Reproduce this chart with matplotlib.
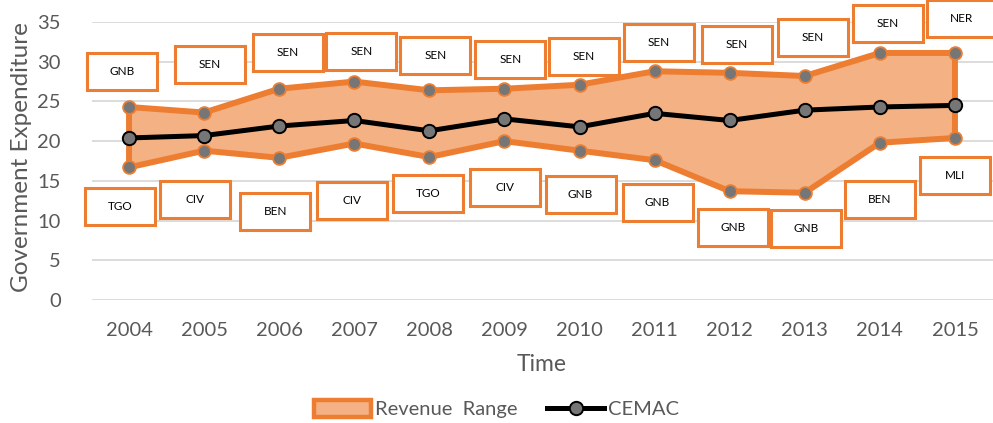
import matplotlib
matplotlib.use("Agg")
import matplotlib.pyplot as plt
import numpy as np
from matplotlib.patches import Rectangle, Patch
from matplotlib.lines import Line2D
from matplotlib.transforms import IdentityTransform

# ---------------- data ----------------
years = ["2004", "2005", "2006", "2007", "2008", "2009", "2010", "2011", "2012", "2013", "2014", "2015"]
rev_max = [24.3, 23.6, 26.6, 27.5, 26.4, 26.6, 27.1, 28.8, 28.6, 28.2, 31.1, 31.1]
rev_min = [16.7, 18.8, 17.9, 19.7, 18.0, 20.0, 18.8, 17.6, 13.7, 13.5, 19.8, 20.4]
cemac = [20.4, 20.7, 21.9, 22.6, 21.3, 22.8, 21.8, 23.5, 22.6, 23.9, 24.3, 24.5]
max_country = ["GNB", "SEN", "SEN", "SEN", "SEN", "SEN", "SEN", "SEN", "SEN", "SEN", "SEN", "NER"]
min_country = ["TGO", "CIV", "BEN", "CIV", "TGO", "CIV", "GNB", "GNB", "GNB", "GNB", "BEN", "MLI"]
yticks = [0, 5, 10, 15, 20, 25, 30, 35]

# label box offsets from their point (pixels; x right, y down)
max_off = [(-7, -35), (6, -48), (9, -36), (7, -30), (6, -35), (6, -29),
           (4, -28), (4, -29), (7, -28), (8, -39), (8, -29), (7, -34)]
min_off = [(-9, 39), (-9, 49), (-4, 54), (-2, 57), (-1, 36), (1, 46),
           (1, 44), (3, 42), (3, 36), (1, 36), (0, 57), (0, 38)]

ORANGE = "#ED7D31"
FILL = "#F4B183"
GREY_MK = "#767676"
TXT = "#595959"
FONT = "Lato"

W, H = 993, 423
fig = plt.figure(figsize=(W / 100, H / 100), dpi=100)
ax = fig.add_axes([91.5 / W, 123 / H, 901 / W, 278 / H])

x = np.arange(len(years))
ax.set_xlim(-0.5, len(years) - 0.5)
ax.set_ylim(0, 35)

# grid
ax.set_yticks(yticks)
ax.yaxis.grid(True, color="#D9D9D9", lw=1.3, zorder=0)
ax.set_axisbelow(True)
for s in ax.spines.values():
    s.set_visible(False)
ax.tick_params(length=0)
ax.tick_params(axis="y", pad=22, labelsize=14.5, labelcolor=TXT)
ax.tick_params(axis="x", pad=16, labelsize=14.5, labelcolor=TXT)
ax.set_xticks(x)
ax.set_xticklabels(years)
for lab in ax.get_xticklabels() + ax.get_yticklabels():
    lab.set_fontfamily(FONT)

# revenue range polygon
px = np.concatenate([x, x[::-1]])
py = np.concatenate([rev_max, rev_min[::-1]])
ax.fill(px, py, facecolor=FILL, edgecolor=ORANGE, lw=4.3, joinstyle="round", zorder=2)
ax.plot(x, rev_max, ls="none", marker="o", ms=9.2, mfc=GREY_MK, mec=ORANGE, mew=1.3, zorder=3)
ax.plot(x, rev_min, ls="none", marker="o", ms=9.2, mfc=GREY_MK, mec=ORANGE, mew=1.3, zorder=3)

# CEMAC line
ax.plot(x, cemac, color="black", lw=3.6, marker="o", ms=9.6, mfc=GREY_MK, mec="black", mew=1.4, zorder=4)

# labels
ax.set_xlabel("Time", fontsize=16.5, color=TXT, fontfamily=FONT)
ax.xaxis.set_label_coords(0.5, -64 / 278)
ax.xaxis.label.set_va("center")
ax.set_ylabel("Government Expenditure", fontsize=17.5, color=TXT, fontfamily=FONT)
ax.yaxis.set_label_coords((22 - 91.5) / 901, (300 - 157) / 278)
ax.yaxis.label.set_va("center")

# data label boxes in pixel space
bw, bh = 70, 37
def add_box(xi, yi, off, txt):
    pxl, pyl = ax.transData.transform((xi, yi))
    cx = pxl + off[0]
    cy = pyl - off[1]
    r = Rectangle((cx - bw / 2, cy - bh / 2), bw, bh, facecolor="white", edgecolor=ORANGE,
                  lw=2.2, transform=IdentityTransform(), zorder=10)
    fig.add_artist(r)
    fig.text(cx, cy, txt, transform=IdentityTransform(), ha="center", va="center",
             fontsize=8.5, color="black", fontfamily=FONT, zorder=11)

for i in range(len(years)):
    add_box(x[i], rev_max[i], max_off[i], max_country[i])
    add_box(x[i], rev_min[i], min_off[i], min_country[i])

# legend
h1 = Patch(facecolor=FILL, edgecolor=ORANGE, lw=3.2)
h2 = Line2D([], [], color="black", lw=3.6, marker="o", ms=9.6, mfc=GREY_MK, mec="black", mew=1.4)
leg = fig.legend([h1, h2], ["Revenue  Range", "CEMAC"], loc="center",
                 bbox_to_anchor=(0.5, (H - 409) / H), ncol=2, frameon=False,
                 prop={"family": FONT, "size": 14.5}, labelcolor=TXT,
                 handlelength=2.8, handleheight=0.9, handletextpad=0.2, columnspacing=1.5)

fig.savefig("out.png", dpi=100)
